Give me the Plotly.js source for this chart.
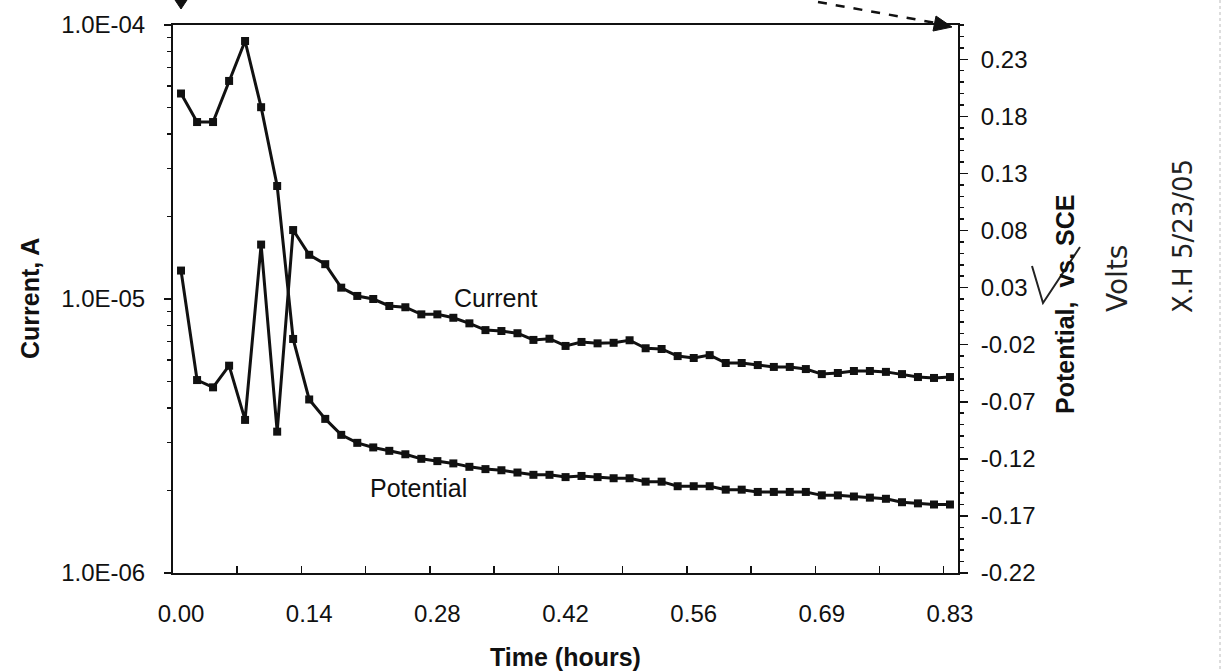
<!DOCTYPE html>
<html><head><meta charset="utf-8">
<script src="https://cdn.plot.ly/plotly-3.0.1.min.js"></script>
<style>html,body{margin:0;padding:0;background:#fff}#chart{width:1230px;height:672px}</style>
</head><body><div id="chart"></div>
<script>
// Time categories (hours)
const timeHours = [0.0000,0.0174,0.0347,0.0521,0.0694,0.0868,0.1042,0.1215,0.1389,0.1563,
  0.1736,0.1910,0.2083,0.2257,0.2431,0.2604,0.2778,0.2951,0.3125,0.3299,
  0.3472,0.3646,0.3819,0.3993,0.4167,0.4340,0.4514,0.4688,0.4861,0.5035,
  0.5208,0.5382,0.5556,0.5729,0.5903,0.6076,0.6250,0.6424,0.6597,0.6771,
  0.6944,0.7118,0.7292,0.7465,0.7639,0.7813,0.7986,0.8160,0.8333];
// Current, A (left log axis)
const currentA = [1.27e-5,5.06e-6,4.76e-6,5.71e-6,3.62e-6,1.58e-5,3.28e-6,1.785e-5,1.45e-5,1.34e-5,
  1.10e-5,1.026e-5,1.0e-5,9.43e-6,9.33e-6,8.79e-6,8.79e-6,8.54e-6,8.15e-6,7.70e-6,
  7.64e-6,7.50e-6,7.09e-6,7.16e-6,6.74e-6,6.97e-6,6.89e-6,6.92e-6,7.07e-6,6.61e-6,
  6.57e-6,6.19e-6,6.09e-6,6.24e-6,5.84e-6,5.84e-6,5.74e-6,5.65e-6,5.65e-6,5.55e-6,
  5.32e-6,5.37e-6,5.46e-6,5.46e-6,5.42e-6,5.32e-6,5.19e-6,5.15e-6,5.19e-6];
// Potential, V vs. SCE (right axis)
const potentialV = [0.200,0.175,0.175,0.211,0.246,0.188,0.119,-0.015,-0.068,-0.085,
  -0.099,-0.106,-0.110,-0.113,-0.116,-0.120,-0.122,-0.124,-0.127,-0.129,
  -0.130,-0.132,-0.134,-0.134,-0.136,-0.135,-0.136,-0.137,-0.137,-0.140,
  -0.140,-0.144,-0.144,-0.144,-0.147,-0.147,-0.149,-0.149,-0.149,-0.149,
  -0.152,-0.152,-0.153,-0.154,-0.155,-0.158,-0.159,-0.160,-0.160];
const xTickIdx = [0,8,16,24,32,40,48];
const xTickLabels = ['0.00','0.14','0.28','0.42','0.56','0.69','0.83'];
const leftTickVals = [1e-6,1e-5,1e-4];
const leftTickText = ['1.0E-06','1.0E-05','1.0E-04'];
const rightTickVals = [-0.22,-0.17,-0.12,-0.07,-0.02,0.03,0.08,0.13,0.18,0.23];
const rightTickText = ['-0.22','-0.17','-0.12','-0.07','-0.02','0.03','0.08','0.13','0.18','0.23'];

const step = timeHours[1] - timeHours[0];
const n = timeHours.length;
const xBoundaries = [];
for (let k = 4; k < n; k += 4) xBoundaries.push(timeHours[0] + (k - 0.5) * step);
const logMinor = [];
[1e-6, 1e-5].forEach(d => { for (let m = 2; m <= 9; m++) logMinor.push(m * d); });

const FONT = 'Liberation Sans, Arial, Helvetica, sans-serif';
const INK = '#111';
const W = 1230, H = 672, L = 173, R = 272, T = 25, B = 99;
const pw = W - L - R, ph = H - T - B;
const px = v => (v - L) / pw;
const py = v => (H - B - v) / ph;

const traces = [
  {x: timeHours, y: currentA, yaxis: 'y', name: 'Current', mode: 'lines+markers',
   line: {color: INK, width: 3}, marker: {symbol: 'square', size: 8, color: INK}},
  {x: timeHours, y: potentialV, yaxis: 'y2', name: 'Potential', mode: 'lines+markers',
   line: {color: INK, width: 3}, marker: {symbol: 'square', size: 8, color: INK}}
];

const layout = {
  width: W, height: H, showlegend: false,
  margin: {l: L, r: R, t: T, b: B},
  paper_bgcolor: '#fff', plot_bgcolor: '#fff',
  font: {family: FONT, color: INK, size: 24},
  xaxis: {
    range: [timeHours[0] - step / 2, timeHours[n - 1] + step / 2],
    tickmode: 'array', tickvals: xTickIdx.map(i => timeHours[i]), ticktext: xTickLabels,
    ticks: '', showline: true, mirror: true, linecolor: INK, linewidth: 2,
    showgrid: false, zeroline: false, tickfont: {size: 24}, ticklabelstandoff: 18,
    minor: {tickmode: 'array', tickvals: xBoundaries, ticks: 'inside', ticklen: 7,
            tickwidth: 1.5, tickcolor: INK, showgrid: false}
  },
  yaxis: {
    type: 'log', range: [-6, -4],
    tickmode: 'array', tickvals: leftTickVals, ticktext: leftTickText,
    ticks: 'outside', ticklen: 7, tickwidth: 1.5, tickcolor: INK,
    showline: true, linecolor: INK, linewidth: 2, showgrid: false, zeroline: false,
    tickfont: {size: 24}, ticklabelstandoff: 14,
    minor: {tickmode: 'array', tickvals: logMinor, ticks: 'outside', ticklen: 4,
            tickwidth: 1.5, tickcolor: INK, showgrid: false}
  },
  yaxis2: {
    overlaying: 'y', side: 'right', range: [-0.22, 0.26],
    tickmode: 'array', tickvals: rightTickVals, ticktext: rightTickText,
    ticks: 'outside', ticklen: 8, tickwidth: 1.5, tickcolor: INK,
    showline: true, linecolor: INK, linewidth: 2, showgrid: false, zeroline: false,
    tickfont: {size: 24}, ticklabelstandoff: 8,
    minor: {tickmode: 'linear', tick0: -0.22, dtick: 0.01, ticks: 'outside', ticklen: 4,
            tickwidth: 1.5, tickcolor: INK, showgrid: false}
  },
  annotations: [
    {xref: 'paper', yref: 'paper', x: px(452), y: py(298), xanchor: 'left', yanchor: 'middle',
     text: 'Current', showarrow: false, font: {size: 25}},
    {xref: 'paper', yref: 'paper', x: px(368), y: py(488), xanchor: 'left', yanchor: 'middle',
     text: 'Potential', showarrow: false, font: {size: 25}},
    {xref: 'paper', yref: 'paper', x: px(565), y: py(657), xanchor: 'center', yanchor: 'middle',
     text: '<b>Time (hours)</b>', showarrow: false, font: {size: 25}},
    {xref: 'paper', yref: 'paper', x: px(30), y: 0.5, xanchor: 'center', yanchor: 'middle',
     text: '<b>Current, A</b>', textangle: -90, showarrow: false, font: {size: 25}},
    {xref: 'paper', yref: 'paper', x: px(1065), y: py(304), xanchor: 'center', yanchor: 'middle',
     text: '<b>Potential,  vs. SCE</b>', textangle: -90, showarrow: false, font: {size: 25}},
    {xref: 'paper', yref: 'paper', x: px(1117), y: py(279), xanchor: 'center', yanchor: 'middle',
     text: 'Volts', textangle: -90, showarrow: false,
     font: {size: 28, family: 'DejaVu Sans, sans-serif', color: '#222'}},
    {xref: 'paper', yref: 'paper', x: px(1183), y: py(236), xanchor: 'center', yanchor: 'middle',
     text: 'X.H 5/23/05', textangle: -90, showarrow: false,
     font: {size: 26, family: 'DejaVu Sans, sans-serif', color: '#222'}}
  ],
  shapes: [
    {type: 'path', xref: 'paper', yref: 'paper', fillcolor: INK, line: {color: INK, width: 1},
     path: `M ${px(175)} ${py(0)} L ${px(187)} ${py(0)} L ${px(181)} ${py(9)} Z`},
    {type: 'line', xref: 'paper', yref: 'paper', x0: px(818), y0: py(2), x1: px(936), y1: py(23),
     line: {color: INK, width: 2.5, dash: 'dash'}},
    {type: 'path', xref: 'paper', yref: 'paper', fillcolor: INK, line: {color: INK, width: 1},
     path: `M ${px(952)} ${py(27)} L ${px(933)} ${py(31)} L ${px(936)} ${py(16)} Z`},
    {type: 'path', xref: 'paper', yref: 'paper', line: {color: '#222', width: 2},
     path: `M ${px(1032)} ${py(266)} L ${px(1043)} ${py(303)} L ${px(1080)} ${py(247)}`},
    {type: 'line', xref: 'paper', yref: 'paper', x0: px(1220), y0: py(0), x1: px(1220), y1: py(672),
     line: {color: '#bbb', width: 1, dash: 'dot'}}
  ]
};

Plotly.newPlot('chart', traces, layout, {displayModeBar: false, staticPlot: true});
</script>
</body></html>
